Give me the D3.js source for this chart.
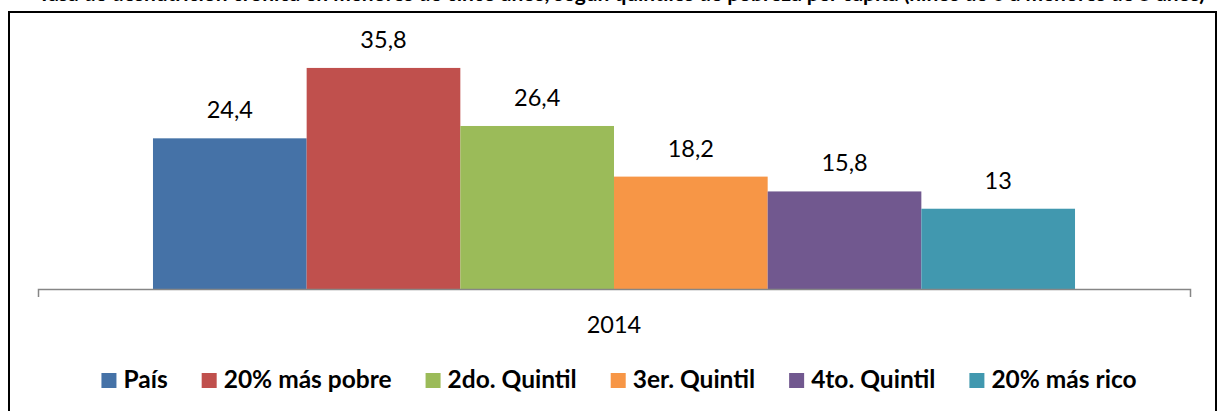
<!DOCTYPE html>
<html lang="es">
<head>
<meta charset="UTF-8">
<script src="https://d3js.org/d3.v7.min.js"></script>
<title>Quintiles 2014</title>
<style>
    body { margin: 0; background: #fff; }
    svg { display: block; font-family: Lato, "Open Sans", sans-serif; }
</style>
</head>
<body>
<svg width="1217" height="411"></svg>
<script>
    // data
    const years = ["2014"];
    const series = ["País", "20% más pobre", "2do. Quintil", "3er. Quintil", "4to. Quintil", "20% más rico"];
    const values = [24.4, 35.8, 26.4, 18.2, 15.8, 13];
    const labels = ["24,4", "35,8", "26,4", "18,2", "15,8", "13"];
    const colors = ["#4572a7", "#c0504d", "#9bbb59", "#f79646", "#71588f", "#4198af"];
    const title = "Tasa de desnutrición crónica en menores de cinco años, según quintiles de pobreza per cápita (niños de 0 a menores de 5 años)";

    const svg = d3.select("svg");

    // title is cut off at the top of the image, only the bottom of the letters shows
    svg.append("text")
        .attr("x", 38).attr("y", 1)
        .attr("textLength", 1167)
        .attr("lengthAdjust", "spacingAndGlyphs")
        .style("font-weight", "bold")
        .style("font-size", "21px")
        .text(title);

    // chart frame
    svg.append("rect")
        .attr("x", 9).attr("y", 12)
        .attr("width", 1207).attr("height", 410)
        .attr("fill", "none")
        .attr("stroke", "#000")
        .attr("stroke-width", 2);

    const x0 = d3.scaleBand().domain(years).range([38, 1190]).paddingInner(0).paddingOuter(0.1247);
    const x1 = d3.scaleBand().domain(series).range([0, x0.bandwidth()]);
    const y = d3.scaleLinear().domain([0, 40]).range([289, 42]);

    const g = svg.append("g");
    const bars = g.selectAll("g.bar")
        .data(series.map((s, i) => ({ name: s, v: values[i], lab: labels[i], c: colors[i] })))
        .join("g")
        .attr("class", "bar")
        .attr("transform", "translate(" + x0("2014") + ",0)");

    bars.append("rect")
        .attr("x", d => x1(d.name))
        .attr("y", d => y(d.v))
        .attr("width", x1.bandwidth())
        .attr("height", d => y(0) - y(d.v))
        .attr("fill", d => d.c);

    bars.append("text")
        .attr("x", d => x1(d.name) + x1.bandwidth() / 2)
        .attr("y", d => y(d.v) - 20)
        .attr("text-anchor", "middle")
        .style("font-size", "23.5px")
        .attr("fill", "#000")
        .text(d => d.lab);

    // category axis
    const ax = svg.append("g")
        .attr("transform", "translate(0," + y(0) + ")")
        .call(d3.axisBottom(x0).tickSizeInner(0).tickSizeOuter(8));
    ax.select(".domain").attr("stroke", "#868686").attr("stroke-width", 1.5);
    ax.selectAll(".tick text")
        .attr("y", 44).attr("dy", 0)
        .style("font-size", "23.5px")
        .style("font-family", "Lato, sans-serif")
        .attr("fill", "#000");

    // legend, centred under the plot
    const leg = svg.append("g");
    const items = leg.selectAll("g")
        .data(series.map((s, i) => ({ name: s, c: colors[i] })))
        .join("g");
    items.append("rect")
        .attr("y", 373).attr("width", 15).attr("height", 15)
        .attr("fill", d => d.c);
    items.append("text")
        .attr("x", 22).attr("y", 388)
        .style("font-size", "24.5px")
        .style("font-weight", "bold")
        .text(d => d.name);

    let pos = 0;
    const widths = [];
    items.each(function () {
        widths.push(22 + d3.select(this).select("text").node().getComputedTextLength());
    });
    const gap = 34;
    const total = d3.sum(widths) + gap * (widths.length - 1);
    const start = 619 - total / 2;
    items.attr("transform", (d, i) => {
        const t = "translate(" + (start + pos) + ",0)";
        pos += widths[i] + gap;
        return t;
    });
</script>
</body>
</html>
